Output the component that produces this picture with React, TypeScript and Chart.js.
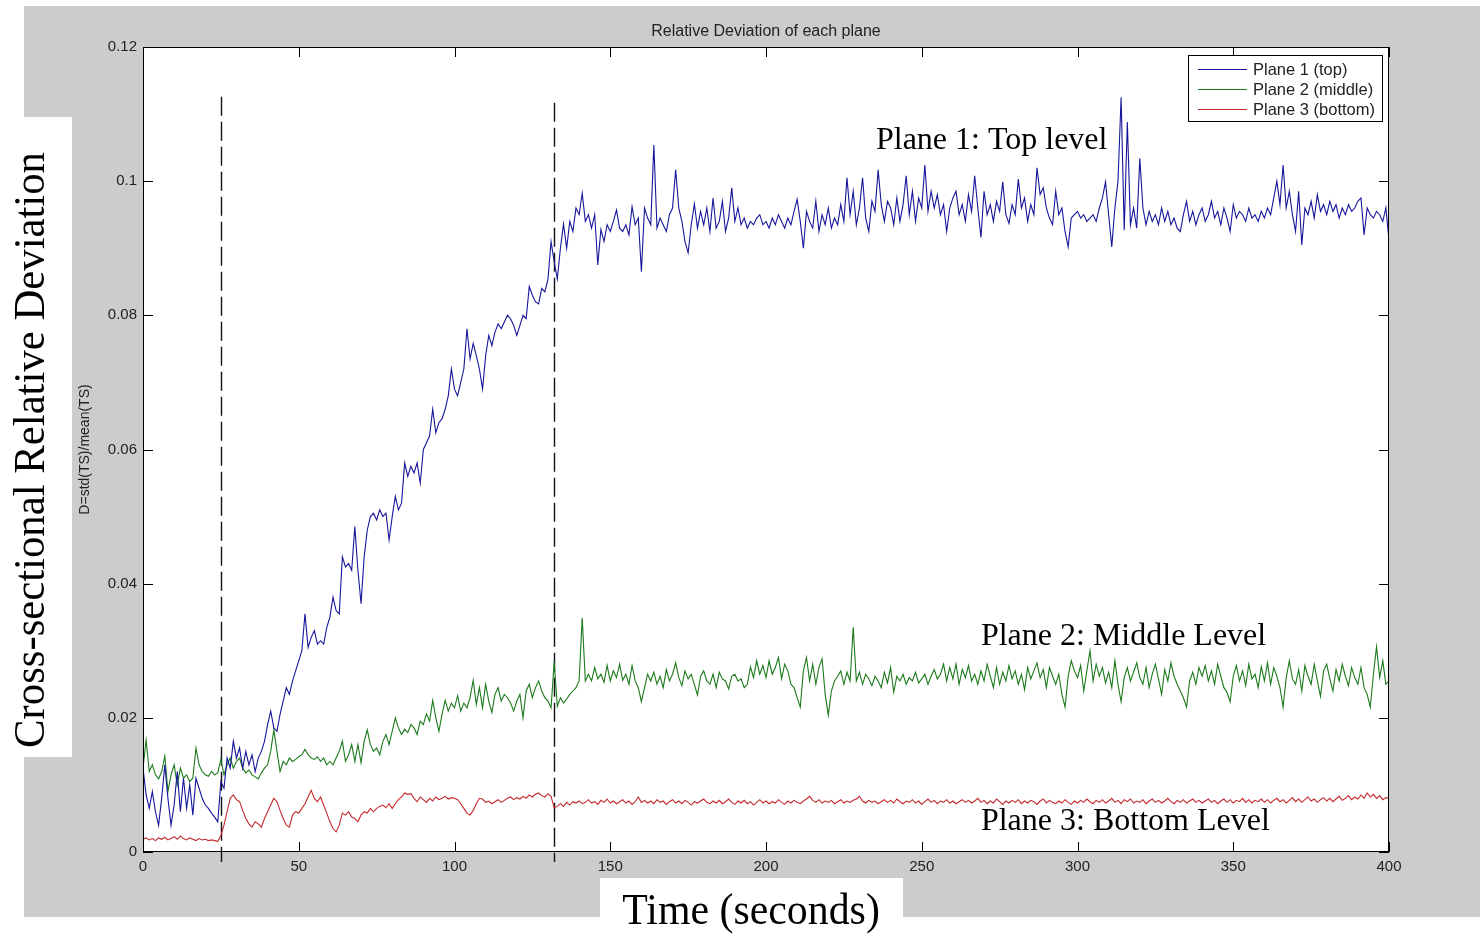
import React, { useEffect, useRef } from "react";
import { Chart, registerables } from "chart.js";

Chart.register(...registerables);

// ---------------- DATA ----------------
const chartTitle = "Relative Deviation of each plane";
const yAxisTitle = "D=std(TS)/mean(TS)";
const seriesLabels = ["Plane 1 (top)", "Plane 2 (middle)", "Plane 3 (bottom)"];
const seriesColors = ["#16169c", "#1b7a1b", "#c4282c"];

const xTickValues = [0, 50, 100, 150, 200, 250, 300, 350, 400];
const yTickValues = [0, 0.02, 0.04, 0.06, 0.08, 0.1, 0.12];
const yTickLabels = ["0", "0.02", "0.04", "0.06", "0.08", "0.1", "0.12"];

// phase markers (dashed vertical lines), in seconds
const phaseMarkerTimes = [25, 132];
const phaseMarkerTops = [0.1126, 0.1117];
const phaseMarkerBottom = -0.0015;

// in-plot annotations [time, value]
const annotationTexts = ["Plane 1: Top level", "Plane 2: Middle Level", "Plane 3: Bottom Level"];
const annotationTimes = [235.3, 269, 269];
const annotationValues = [0.1048, 0.0309, 0.0033];

// overlay captions
const bigYCaption = "Cross-sectional Relative Deviation";
const bigXCaption = "Time (seconds)";

// Plane 1 (top), one sample per second, t = 0..400
const plane1 = [
  0.0125, 0.0085, 0.0065, 0.0090, 0.0060, 0.0040, 0.0080, 0.0130, 0.0080, 0.0040, 0.0070, 0.0120, 0.0060, 0.0110, 0.0065, 0.0100, 0.0055, 0.0110, 0.0095, 0.0080,
  0.0070, 0.0065, 0.0058, 0.0052, 0.0045, 0.0105, 0.0095, 0.0140, 0.0125, 0.0165, 0.0140, 0.0155, 0.0125, 0.0150, 0.0130, 0.0145, 0.0120, 0.0140, 0.0150, 0.0165,
  0.0190, 0.0210, 0.0185, 0.0180, 0.0205, 0.0225, 0.0245, 0.0235, 0.0255, 0.0270, 0.0285, 0.0300, 0.0355, 0.0305, 0.0320, 0.0330, 0.0310, 0.0315, 0.0310, 0.0335,
  0.0350, 0.0380, 0.0360, 0.0355, 0.0440, 0.0425, 0.0430, 0.0420, 0.0485, 0.0420, 0.0370, 0.0440, 0.0480, 0.0500, 0.0505, 0.0495, 0.0510, 0.0500, 0.0505, 0.0465,
  0.0500, 0.0530, 0.0510, 0.0520, 0.0580, 0.0560, 0.0575, 0.0565, 0.0580, 0.0550, 0.0600, 0.0610, 0.0620, 0.0660, 0.0625, 0.0640, 0.0646, 0.0660, 0.0680, 0.0720,
  0.0690, 0.0680, 0.0700, 0.0720, 0.0780, 0.0735, 0.0758, 0.0740, 0.0720, 0.0690, 0.0740, 0.0770, 0.0755, 0.0775, 0.0787, 0.0780, 0.0790, 0.0800, 0.0795, 0.0785,
  0.0770, 0.0785, 0.0800, 0.0795, 0.0843, 0.0830, 0.0820, 0.0817, 0.0840, 0.0835, 0.0854, 0.0910, 0.0880, 0.0854, 0.0900, 0.0936, 0.0900, 0.0940, 0.0925, 0.0960,
  0.0950, 0.0982, 0.0940, 0.0950, 0.0930, 0.0950, 0.0875, 0.0928, 0.0910, 0.0935, 0.0925, 0.0940, 0.0957, 0.0930, 0.0925, 0.0935, 0.0920, 0.0962, 0.0935, 0.0945,
  0.0865, 0.0960, 0.0945, 0.0935, 0.1054, 0.0930, 0.0945, 0.0935, 0.0925, 0.0950, 0.0960, 0.1017, 0.0960, 0.0940, 0.0910, 0.0893, 0.0935, 0.0966, 0.0930, 0.0955,
  0.0935, 0.0960, 0.0925, 0.0975, 0.0930, 0.0940, 0.0970, 0.0925, 0.0945, 0.0990, 0.0940, 0.0960, 0.0935, 0.0945, 0.0930, 0.0940, 0.0935, 0.0945, 0.0950, 0.0935,
  0.0940, 0.0930, 0.0945, 0.0935, 0.0950, 0.0940, 0.0930, 0.0945, 0.0935, 0.0955, 0.0973, 0.0940, 0.0900, 0.0955, 0.0940, 0.0930, 0.0970, 0.0925, 0.0950, 0.0935,
  0.0960, 0.0930, 0.0945, 0.0935, 0.0965, 0.0940, 0.1005, 0.0950, 0.0985, 0.0935, 0.0960, 0.1005, 0.0945, 0.0925, 0.0970, 0.0955, 0.1017, 0.0965, 0.0940, 0.0970,
  0.0960, 0.0935, 0.0975, 0.0940, 0.0965, 0.1008, 0.0950, 0.0985, 0.0940, 0.0975, 0.0960, 0.1024, 0.0955, 0.0985, 0.0960, 0.0980, 0.0950, 0.0965, 0.0925, 0.0960,
  0.0975, 0.0985, 0.0950, 0.0965, 0.0940, 0.0980, 0.0955, 0.1008, 0.0960, 0.0916, 0.0985, 0.0950, 0.0965, 0.0940, 0.0970, 0.0955, 0.0999, 0.0950, 0.0937, 0.0965,
  0.0950, 0.1003, 0.0960, 0.0975, 0.0940, 0.0965, 0.0950, 0.1020, 0.0980, 0.0990, 0.0960, 0.0945, 0.0935, 0.0985, 0.0950, 0.0960, 0.0925, 0.0902, 0.0945, 0.0950,
  0.0955, 0.0945, 0.0950, 0.0940, 0.0945, 0.0950, 0.0940, 0.0960, 0.0975, 0.0999, 0.0950, 0.0902, 0.0960, 0.1000, 0.1125, 0.0927, 0.1088, 0.0935, 0.0960, 0.0930,
  0.1034, 0.0960, 0.0935, 0.0955, 0.0940, 0.0950, 0.0935, 0.0960, 0.0940, 0.0955, 0.0935, 0.0945, 0.0930, 0.0925, 0.0950, 0.0970, 0.0940, 0.0955, 0.0935, 0.0950,
  0.0960, 0.0940, 0.0950, 0.0970, 0.0945, 0.0955, 0.0935, 0.0960, 0.0945, 0.0925, 0.0965, 0.0945, 0.0955, 0.0950, 0.0940, 0.0960, 0.0945, 0.0950, 0.0940, 0.0955,
  0.0945, 0.0960, 0.0950, 0.0975, 0.1000, 0.0965, 0.1024, 0.0960, 0.0985, 0.0950, 0.0925, 0.0985, 0.0905, 0.0960, 0.0950, 0.0970, 0.0945, 0.0980, 0.0955, 0.0965,
  0.0950, 0.0970, 0.0955, 0.0965, 0.0945, 0.0960, 0.0950, 0.0965, 0.0955, 0.0960, 0.0970, 0.0975, 0.0920, 0.0960, 0.0950, 0.0945, 0.0955, 0.0950, 0.0940, 0.0960,
  0.0912,
];

// Plane 2 (middle)
const plane2 = [
  0.0125, 0.0167, 0.0120, 0.0130, 0.0115, 0.0109, 0.0120, 0.0143, 0.0090, 0.0115, 0.0130, 0.0100, 0.0125, 0.0110, 0.0115, 0.0105, 0.0110, 0.0155, 0.0130, 0.0120,
  0.0115, 0.0113, 0.0120, 0.0115, 0.0118, 0.0138, 0.0115, 0.0130, 0.0140, 0.0125, 0.0135, 0.0140, 0.0125, 0.0118, 0.0122, 0.0115, 0.0112, 0.0109, 0.0118, 0.0125,
  0.0130, 0.0150, 0.0182, 0.0150, 0.0120, 0.0135, 0.0130, 0.0140, 0.0135, 0.0138, 0.0142, 0.0145, 0.0153, 0.0145, 0.0140, 0.0138, 0.0142, 0.0135, 0.0140, 0.0130,
  0.0135, 0.0130, 0.0140, 0.0150, 0.0165, 0.0135, 0.0145, 0.0160, 0.0135, 0.0160, 0.0133, 0.0165, 0.0182, 0.0160, 0.0150, 0.0155, 0.0145, 0.0165, 0.0175, 0.0160,
  0.0180, 0.0200, 0.0185, 0.0175, 0.0183, 0.0178, 0.0190, 0.0185, 0.0175, 0.0195, 0.0190, 0.0206, 0.0195, 0.0226, 0.0200, 0.0180, 0.0205, 0.0226, 0.0210, 0.0222,
  0.0215, 0.0233, 0.0210, 0.0222, 0.0215, 0.0230, 0.0256, 0.0220, 0.0245, 0.0215, 0.0250, 0.0225, 0.0208, 0.0235, 0.0245, 0.0225, 0.0235, 0.0230, 0.0222, 0.0210,
  0.0225, 0.0235, 0.0200, 0.0240, 0.0250, 0.0230, 0.0245, 0.0255, 0.0240, 0.0230, 0.0225, 0.0215, 0.0283, 0.0217, 0.0230, 0.0222, 0.0228, 0.0235, 0.0240, 0.0245,
  0.0255, 0.0349, 0.0255, 0.0265, 0.0255, 0.0275, 0.0258, 0.0265, 0.0253, 0.0278, 0.0255, 0.0270, 0.0260, 0.0280, 0.0256, 0.0265, 0.0250, 0.0278, 0.0255, 0.0245,
  0.0224, 0.0245, 0.0265, 0.0255, 0.0268, 0.0250, 0.0262, 0.0245, 0.0272, 0.0255, 0.0265, 0.0282, 0.0260, 0.0248, 0.0270, 0.0258, 0.0265, 0.0250, 0.0234, 0.0262,
  0.0270, 0.0255, 0.0250, 0.0265, 0.0245, 0.0268, 0.0258, 0.0255, 0.0243, 0.0262, 0.0265, 0.0255, 0.0258, 0.0245, 0.0250, 0.0276, 0.0260, 0.0285, 0.0265, 0.0278,
  0.0260, 0.0285, 0.0265, 0.0275, 0.0290, 0.0258, 0.0280, 0.0270, 0.0250, 0.0245, 0.0230, 0.0216, 0.0270, 0.0290, 0.0255, 0.0280, 0.0250, 0.0275, 0.0288, 0.0235,
  0.0204, 0.0240, 0.0255, 0.0262, 0.0270, 0.0250, 0.0268, 0.0255, 0.0335, 0.0255, 0.0268, 0.0250, 0.0265, 0.0258, 0.0248, 0.0262, 0.0255, 0.0245, 0.0268, 0.0252,
  0.0275, 0.0238, 0.0262, 0.0255, 0.0265, 0.0250, 0.0260, 0.0255, 0.0268, 0.0252, 0.0258, 0.0265, 0.0250, 0.0262, 0.0272, 0.0258, 0.0265, 0.0280, 0.0255, 0.0275,
  0.0258, 0.0280, 0.0250, 0.0272, 0.0260, 0.0278, 0.0255, 0.0265, 0.0250, 0.0270, 0.0255, 0.0280, 0.0262, 0.0245, 0.0275, 0.0250, 0.0268, 0.0255, 0.0278, 0.0258,
  0.0270, 0.0250, 0.0265, 0.0242, 0.0275, 0.0258, 0.0270, 0.0282, 0.0260, 0.0272, 0.0245, 0.0275, 0.0262, 0.0250, 0.0265, 0.0235, 0.0216, 0.0262, 0.0285, 0.0270,
  0.0260, 0.0278, 0.0240, 0.0270, 0.0300, 0.0255, 0.0280, 0.0262, 0.0275, 0.0252, 0.0268, 0.0245, 0.0285, 0.0250, 0.0224, 0.0260, 0.0275, 0.0255, 0.0268, 0.0282,
  0.0260, 0.0250, 0.0275, 0.0245, 0.0265, 0.0280, 0.0258, 0.0235, 0.0272, 0.0255, 0.0282, 0.0262, 0.0250, 0.0240, 0.0230, 0.0216, 0.0255, 0.0268, 0.0250, 0.0275,
  0.0262, 0.0278, 0.0255, 0.0270, 0.0250, 0.0280, 0.0262, 0.0245, 0.0238, 0.0224, 0.0262, 0.0278, 0.0255, 0.0270, 0.0248, 0.0280, 0.0258, 0.0265, 0.0245, 0.0276,
  0.0255, 0.0282, 0.0250, 0.0275, 0.0262, 0.0245, 0.0216, 0.0260, 0.0285, 0.0258, 0.0250, 0.0272, 0.0240, 0.0278, 0.0262, 0.0250, 0.0280, 0.0255, 0.0232, 0.0270,
  0.0280, 0.0258, 0.0240, 0.0272, 0.0255, 0.0280, 0.0262, 0.0248, 0.0275, 0.0260, 0.0250, 0.0275, 0.0245, 0.0235, 0.0216, 0.0265, 0.0306, 0.0260, 0.0285, 0.0250,
  0.0255,
];

// Plane 3 (bottom)
const plane3 = [
  0.0019, 0.0021, 0.0018, 0.0020, 0.0017, 0.0021, 0.0019, 0.0022, 0.0018, 0.0020, 0.0023, 0.0019, 0.0024, 0.0020, 0.0018, 0.0021, 0.0019, 0.0017, 0.0020, 0.0018,
  0.0019, 0.0017, 0.0018, 0.0017, 0.0016, 0.0024, 0.0040, 0.0060, 0.0080, 0.0085, 0.0078, 0.0075, 0.0062, 0.0050, 0.0042, 0.0037, 0.0045, 0.0042, 0.0037, 0.0050,
  0.0060, 0.0070, 0.0080, 0.0075, 0.0062, 0.0050, 0.0040, 0.0037, 0.0055, 0.0060, 0.0058, 0.0065, 0.0072, 0.0082, 0.0092, 0.0080, 0.0075, 0.0082, 0.0070, 0.0058,
  0.0045, 0.0035, 0.0030, 0.0040, 0.0058, 0.0055, 0.0060, 0.0052, 0.0050, 0.0045, 0.0055, 0.0060, 0.0058, 0.0065, 0.0060, 0.0065, 0.0068, 0.0070, 0.0066, 0.0072,
  0.0065, 0.0072, 0.0078, 0.0082, 0.0088, 0.0086, 0.0087, 0.0080, 0.0075, 0.0082, 0.0078, 0.0074, 0.0080, 0.0076, 0.0082, 0.0078, 0.0080, 0.0083, 0.0079, 0.0081,
  0.0080, 0.0078, 0.0072, 0.0065, 0.0058, 0.0055, 0.0062, 0.0072, 0.0080, 0.0079, 0.0074, 0.0076, 0.0072, 0.0075, 0.0078, 0.0074, 0.0077, 0.0080, 0.0082, 0.0078,
  0.0081, 0.0079, 0.0083, 0.0080, 0.0085, 0.0082, 0.0086, 0.0088, 0.0084, 0.0082, 0.0087, 0.0083, 0.0066, 0.0068, 0.0072, 0.0068, 0.0074, 0.0070, 0.0075, 0.0073,
  0.0076, 0.0072, 0.0074, 0.0078, 0.0073, 0.0075, 0.0071, 0.0077, 0.0074, 0.0079, 0.0073, 0.0076, 0.0072, 0.0075, 0.0078, 0.0073, 0.0076, 0.0071, 0.0075, 0.0082,
  0.0074, 0.0077, 0.0073, 0.0076, 0.0072, 0.0078, 0.0074, 0.0076, 0.0071, 0.0075, 0.0078, 0.0073, 0.0076, 0.0072, 0.0077, 0.0074, 0.0070, 0.0075, 0.0073, 0.0076,
  0.0079, 0.0074, 0.0072, 0.0076, 0.0073, 0.0077, 0.0072, 0.0075, 0.0079, 0.0074, 0.0071, 0.0076, 0.0073, 0.0077, 0.0072, 0.0075, 0.0070, 0.0074, 0.0078, 0.0073,
  0.0076, 0.0072, 0.0075, 0.0073, 0.0078, 0.0074, 0.0071, 0.0076, 0.0073, 0.0077, 0.0074, 0.0072, 0.0076, 0.0079, 0.0083, 0.0077, 0.0074, 0.0078, 0.0073, 0.0076,
  0.0074, 0.0077, 0.0072, 0.0075, 0.0078, 0.0073, 0.0076, 0.0074, 0.0077, 0.0079, 0.0083, 0.0076, 0.0073, 0.0077, 0.0074, 0.0076, 0.0072, 0.0075, 0.0078, 0.0074,
  0.0077, 0.0073, 0.0079, 0.0075, 0.0072, 0.0076, 0.0074, 0.0078, 0.0073, 0.0076, 0.0071, 0.0075, 0.0079, 0.0074, 0.0077, 0.0072, 0.0076, 0.0074, 0.0078, 0.0073,
  0.0076, 0.0072, 0.0075, 0.0078, 0.0074, 0.0077, 0.0073, 0.0076, 0.0080, 0.0074, 0.0077, 0.0072, 0.0076, 0.0073, 0.0079, 0.0075, 0.0071, 0.0076, 0.0073, 0.0077,
  0.0074, 0.0078, 0.0072, 0.0076, 0.0073, 0.0077, 0.0075, 0.0071, 0.0076, 0.0079, 0.0073, 0.0077, 0.0074, 0.0072, 0.0076, 0.0073, 0.0078, 0.0074, 0.0071, 0.0076,
  0.0073, 0.0077, 0.0074, 0.0079, 0.0075, 0.0072, 0.0077, 0.0074, 0.0078, 0.0073, 0.0076, 0.0080, 0.0074, 0.0077, 0.0072, 0.0078, 0.0075, 0.0079, 0.0073, 0.0076,
  0.0074, 0.0078, 0.0072, 0.0076, 0.0079, 0.0074, 0.0077, 0.0073, 0.0076, 0.0080, 0.0075, 0.0072, 0.0077, 0.0074, 0.0078, 0.0073, 0.0076, 0.0079, 0.0074, 0.0077,
  0.0073, 0.0076, 0.0079, 0.0074, 0.0077, 0.0072, 0.0076, 0.0079, 0.0074, 0.0078, 0.0073, 0.0077, 0.0075, 0.0080, 0.0074, 0.0078, 0.0073, 0.0077, 0.0075, 0.0079,
  0.0074, 0.0078, 0.0073, 0.0077, 0.0080, 0.0075, 0.0078, 0.0073, 0.0077, 0.0081, 0.0075, 0.0079, 0.0074, 0.0078, 0.0082, 0.0076, 0.0079, 0.0074, 0.0078, 0.0081,
  0.0076, 0.0080, 0.0075, 0.0079, 0.0083, 0.0077, 0.0080, 0.0084, 0.0078, 0.0082, 0.0079, 0.0085, 0.0080, 0.0088, 0.0082, 0.0086, 0.0080, 0.0084, 0.0078, 0.0081,
  0.0080,
];

// sample times (seconds) — one sample per second
const timeSeconds = plane1.map((_, i) => i);

// ---------------- STYLE ----------------
const W = 1480;
const H = 937;
const FIGURE_GRAY = "#cccccc";
const SANS = "'Liberation Sans', Arial, Helvetica, sans-serif";
const SERIF = "'Liberation Serif', 'Times New Roman', Times, serif";
const TEXT_COLOR = "#222222";

const backgroundPlugin = {
  id: "matlabBackground",
  beforeDraw(chart: any) {
    const { ctx, chartArea: a } = chart;
    ctx.save();
    ctx.fillStyle = "#ffffff";
    ctx.fillRect(0, 0, chart.width, chart.height);
    ctx.fillStyle = FIGURE_GRAY;
    ctx.fillRect(24, 6, chart.width - 24, 911);
    ctx.fillStyle = "#ffffff";
    ctx.fillRect(a.left, a.top, a.right - a.left, a.bottom - a.top);
    ctx.restore();
  },
};

const markerPlugin = {
  id: "phaseMarkers",
  beforeDatasetsDraw(chart: any) {
    const { ctx } = chart;
    const xs = chart.scales.x;
    const ys = chart.scales.y;
    ctx.save();
    ctx.strokeStyle = "#111111";
    ctx.lineWidth = 1.4;
    ctx.setLineDash([19, 6]);
    phaseMarkerTimes.forEach((t, i) => {
      const px = Math.round(xs.getPixelForValue(t)) + 0.5;
      ctx.beginPath();
      ctx.moveTo(px, ys.getPixelForValue(phaseMarkerTops[i]));
      ctx.lineTo(px, ys.getPixelForValue(phaseMarkerBottom));
      ctx.stroke();
    });
    ctx.restore();
  },
};

const framePlugin = {
  id: "matlabFrame",
  afterDatasetsDraw(chart: any) {
    const { ctx, chartArea: a } = chart;
    const xs = chart.scales.x;
    const ys = chart.scales.y;
    const tl = 10;
    ctx.save();
    ctx.strokeStyle = "#000000";
    ctx.lineWidth = 1;
    ctx.setLineDash([]);
    ctx.strokeRect(a.left + 0.5, a.top + 0.5, a.right - a.left - 1, a.bottom - a.top - 1);
    ctx.beginPath();
    xs.ticks.forEach((tk: any) => {
      const px = Math.round(xs.getPixelForValue(tk.value)) + 0.5;
      ctx.moveTo(px, a.bottom);
      ctx.lineTo(px, a.bottom - tl);
      ctx.moveTo(px, a.top);
      ctx.lineTo(px, a.top + tl);
    });
    ys.ticks.forEach((tk: any) => {
      const py = Math.round(ys.getPixelForValue(tk.value)) + 0.5;
      ctx.moveTo(a.left, py);
      ctx.lineTo(a.left + tl, py);
      ctx.moveTo(a.right, py);
      ctx.lineTo(a.right - tl, py);
    });
    ctx.stroke();

    // in-plot annotations
    ctx.fillStyle = "#000000";
    ctx.font = `32px ${SERIF}`;
    ctx.textAlign = "left";
    ctx.textBaseline = "alphabetic";
    annotationTexts.forEach((txt, i) => {
      ctx.fillText(txt, xs.getPixelForValue(annotationTimes[i]), ys.getPixelForValue(annotationValues[i]));
    });

    // legend box (MATLAB style)
    const lw = 194;
    const lh = 66;
    const lx = a.right - 7 - lw;
    const ly = a.top + 8;
    ctx.fillStyle = "#ffffff";
    ctx.fillRect(lx, ly, lw, lh);
    ctx.strokeStyle = "#000000";
    ctx.lineWidth = 1;
    ctx.strokeRect(lx + 0.5, ly + 0.5, lw, lh);
    ctx.font = `16.5px ${SANS}`;
    ctx.textBaseline = "middle";
    chart.data.datasets.forEach((ds: any, i: number) => {
      const cy = ly + 14 + i * 20;
      ctx.strokeStyle = seriesColors[i];
      ctx.lineWidth = 1.2;
      ctx.beginPath();
      ctx.moveTo(lx + 10, cy + 0.5);
      ctx.lineTo(lx + 59, cy + 0.5);
      ctx.stroke();
      ctx.fillStyle = TEXT_COLOR;
      ctx.fillText(ds.label, lx + 65, cy + 1);
    });
    ctx.restore();
  },
};

const overlayPlugin = {
  id: "captionOverlays",
  afterDraw(chart: any) {
    const { ctx } = chart;
    ctx.save();
    ctx.fillStyle = "#ffffff";
    ctx.fillRect(0, 117, 72, 640);
    ctx.fillRect(600, 878, 303, 59);
    ctx.fillStyle = "#000000";
    ctx.font = `45px ${SERIF}`;
    ctx.textAlign = "center";
    ctx.textBaseline = "alphabetic";
    // rotated y caption
    ctx.save();
    ctx.translate(44, 450);
    ctx.rotate(-Math.PI / 2);
    ctx.scale(0.95, 1);
    ctx.fillText(bigYCaption, 0, 0);
    ctx.restore();
    // x caption
    ctx.save();
    ctx.translate(751, 924);
    ctx.scale(0.93, 1);
    ctx.fillText(bigXCaption, 0, 0);
    ctx.restore();
    ctx.restore();
  },
};

export default function App() {
  const canvasRef = useRef<HTMLCanvasElement | null>(null);

  useEffect(() => {
    if (!canvasRef.current) return;
    Chart.defaults.font.family = SANS;
    const makeData = (vals: number[]) => vals.map((v, i) => ({ x: timeSeconds[i], y: v }));
    const series = [plane1, plane2, plane3];

    const chart = new Chart(canvasRef.current, {
      type: "line",
      data: {
        datasets: series.map((vals, i) => ({
          label: seriesLabels[i],
          data: makeData(vals),
          borderColor: seriesColors[i],
          backgroundColor: seriesColors[i],
          borderWidth: 1.1,
          pointRadius: 0,
          tension: 0,
          fill: false,
        })),
      },
      options: {
        animation: false,
        responsive: false,
        devicePixelRatio: 1,
        layout: { padding: { left: 77, right: 91, top: 0, bottom: 0 } },
        plugins: {
          legend: { display: false },
          tooltip: { enabled: false },
          title: {
            display: true,
            text: chartTitle,
            fullSize: false,
            color: TEXT_COLOR,
            font: { size: 16, weight: "normal", family: SANS },
            padding: { top: 21.5, bottom: 6.3 },
          },
        },
        scales: {
          x: {
            type: "linear",
            min: 0,
            max: 400,
            afterFit: (s: any) => {
              s.height = 85;
            },
            afterBuildTicks: (s: any) => {
              s.ticks = xTickValues.map((v) => ({ value: v }));
            },
            grid: { display: false, drawTicks: false },
            border: { display: false },
            ticks: {
              autoSkip: false,
              maxRotation: 0,
              padding: 6,
              color: TEXT_COLOR,
              font: { size: 15, family: SANS },
              callback: (v: any) => String(v),
            },
          },
          y: {
            type: "linear",
            min: 0,
            max: 0.12,
            afterFit: (s: any) => {
              s.width = 66;
            },
            afterBuildTicks: (s: any) => {
              s.ticks = yTickValues.map((v) => ({ value: v }));
            },
            grid: { display: false, drawTicks: false },
            border: { display: false },
            title: {
              display: true,
              text: yAxisTitle,
              color: TEXT_COLOR,
              font: { size: 14, family: SANS },
              padding: 0,
            },
            ticks: {
              autoSkip: false,
              padding: 6,
              color: TEXT_COLOR,
              font: { size: 15, family: SANS },
              callback: (v: any) => {
                const idx = yTickValues.findIndex((t) => Math.abs(t - v) < 1e-9);
                return idx >= 0 ? yTickLabels[idx] : "";
              },
            },
          },
        },
      },
      plugins: [backgroundPlugin, markerPlugin, framePlugin, overlayPlugin],
    } as any);

    return () => chart.destroy();
  }, []);

  return (
    <div style={{ position: "absolute", left: 0, top: 0, width: W, height: H, background: "#ffffff" }}>
      <canvas ref={canvasRef} width={W} height={H} style={{ width: W, height: H, display: "block" }} />
    </div>
  );
}
